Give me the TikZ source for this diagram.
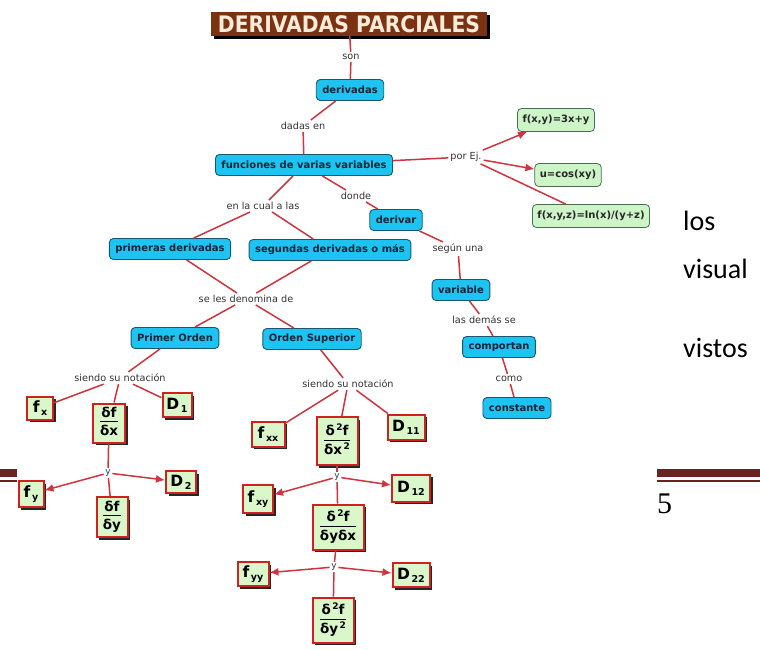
\documentclass[tikz,border=0pt]{standalone}
\usepackage{fontspec}
\setmainfont{DejaVu Sans}
\newfontfamily\calib{Carlito}
\newfontfamily\pserif{Liberation Serif}
\usetikzlibrary{arrows.meta,shadows}
\definecolor{conn}{HTML}{D0343E}
\definecolor{bluefill}{HTML}{1DC4F2}
\definecolor{blueedge}{HTML}{1B5670}
\definecolor{bluetext}{HTML}{0E2238}
\definecolor{greenfill}{HTML}{CDF5C8}
\definecolor{greenedge}{HTML}{4A6E50}
\definecolor{notfill}{HTML}{D9F7C8}
\definecolor{notedge}{HTML}{D02020}
\definecolor{titlefill}{HTML}{7A3212}
\definecolor{titletext}{HTML}{FBEBD8}
\definecolor{labeltext}{HTML}{333333}
\definecolor{conjtext}{HTML}{2A3A5A}
\definecolor{barcol}{HTML}{6B2222}
\newcommand\nsub[2]{{\fontsize{15.5}{15.5}\selectfont #1}\raisebox{-3pt}{\fontsize{9.5}{9.5}\selectfont\,#2}}
\newcommand\nfrac[2]{{\setlength\arrayrulewidth{1.3pt}\renewcommand\arraystretch{0.95}\begin{tabular}{@{}c@{}}#1\\\hline\rule{0pt}{13pt}#2\end{tabular}}}
\newcommand\sqd{\raisebox{5pt}{\fontsize{9}{9}\selectfont\,2}}
\begin{document}
\begin{tikzpicture}[x=1pt,y=-1pt,
  concept/.style={draw=blueedge, fill=bluefill, line width=0.9pt, rounded corners=4pt, text=bluetext, font=\fontsize{10}{12}\selectfont\bfseries, inner xsep=6pt, minimum height=21pt},
  example/.style={draw=greenedge, fill=greenfill, line width=0.8pt, rounded corners=4pt, text=black!85, font=\fontsize{10}{12}\selectfont\bfseries, inner xsep=5pt, minimum height=23pt},
  notation/.style={draw=notedge, fill=notfill, line width=2pt, text=black, font=\fontsize{13.5}{14}\selectfont\bfseries, inner sep=1pt, drop shadow={shadow xshift=2.5pt, shadow yshift=-2.5pt, fill=black!85, opacity=1}},
  lbl/.style={text=labeltext, font=\fontsize{9.7}{11}\selectfont, inner sep=2pt},
  conj/.style={text=conjtext, font=\fontsize{9}{10}\selectfont, inner sep=1.5pt},
  link/.style={draw=conn, line width=1.5pt},
  arrowlink/.style={link, -{Latex[length=9pt,width=8pt]}},
  pagetext/.style={anchor=base west, inner sep=0pt, font=\calib\fontsize{28}{30}\selectfont},
]
\useasboundingbox[fill=white] (0,0) rectangle (760,649);
% page elements behind the map
\fill[barcol] (0,469) rectangle (17,477);
\fill[barcol] (0,480) rectangle (17,482);
\fill[barcol] (657,469) rectangle (760,477);
\fill[barcol] (657,480) rectangle (760,482);
\node[pagetext] (los) at (683,230) {los};
\node[pagetext] (visual) at (683,278) {visual};
\node[pagetext] (vistos) at (683,357) {vistos};
\node[anchor=base west, inner sep=0pt, font=\pserif\fontsize{30}{30}\selectfont] (pnum) at (657,513) {5};

% title
\node[fill=titlefill, text=titletext, font=\fontsize{20.3}{22}\selectfont\bfseries, minimum width=276pt, minimum height=24pt, inner sep=0pt, drop shadow={shadow xshift=3pt, shadow yshift=-3pt, fill=black, opacity=1}] (title) at (349,24) {\scalebox{1}[1.12]{DERIVADAS PARCIALES}};

% concepts
\node[concept] (deriv) at (350,90) {derivadas};
\node[concept] (func) at (304,165) {funciones de varias variables};
\node[concept] (derivar) at (396,220) {derivar};
\node[concept] (primeras) at (170,249) {primeras derivadas};
\node[concept] (segundas) at (330,250) {segundas derivadas o más};
\node[concept] (variable) at (461,290) {variable};
\node[concept] (comportan) at (499,347) {comportan};
\node[concept] (constante) at (517,408) {constante};
\node[concept] (primer) at (175,338) {Primer Orden};
\node[concept] (superior) at (312,339) {Orden Superior};

% examples
\node[example] (ex1) at (556,120) {f(x,y)=3x+y};
\node[example] (ex2) at (568,175) {u=cos(xy)};
\node[example] (ex3) at (591,216) {f(x,y,z)=ln(x)/(y+z)};

% linking labels
\node[lbl] (son) at (351,57) {son};
\node[lbl] (dadas) at (303,126) {dadas en};
\node[lbl] (porej) at (466,157) {por Ej.};
\node[lbl] (donde) at (356,196) {donde};
\node[lbl] (encual) at (263,206) {en la cual a las};
\node[lbl] (segun) at (458,249) {según una};
\node[lbl] (lasdemas) at (484,320) {las demás se};
\node[lbl] (como) at (509,379) {como};
\node[lbl] (seles) at (246,299) {se les denomina de};
\node[lbl] (siendoA) at (120,378) {siendo su notación};
\node[lbl] (siendoB) at (348,384) {siendo su notación};
\node[conj] (yA) at (108,473) {y};
\node[conj] (yB) at (337,477) {y};
\node[conj] (yC) at (334,567) {y};

% notation boxes
\node[notation, minimum width=26pt, minimum height=23pt] (fx) at (40,408) {\nsub{f}{x}};
\node[notation, minimum width=32pt, minimum height=39pt] (dfdx) at (109,423) {\nfrac{δf}{δx}};
\node[notation, minimum width=29pt, minimum height=24pt] (D1) at (177,405) {\nsub{D}{1}};
\node[notation, minimum width=25pt, minimum height=26pt] (fy) at (31,494) {\nsub{f}{y}};
\node[notation, minimum width=30pt, minimum height=22pt] (D2) at (181,482) {\nsub{D}{2}};
\node[notation, minimum width=31pt, minimum height=40pt] (dfdy) at (112,517) {\nfrac{δf}{δy}};
\node[notation, minimum width=33pt, minimum height=25pt] (fxx) at (268,434) {\nsub{f}{xx}};
\node[notation, minimum width=41pt, minimum height=48pt] (d2fdx2) at (337,441) {\nfrac{δ\sqd f}{δx\sqd}};
\node[notation, minimum width=37pt, minimum height=25pt] (D11) at (406,427) {\nsub{D}{11}};
\node[notation, minimum width=30pt, minimum height=28pt] (fxy) at (258,499) {\nsub{f}{xy}};
\node[notation, minimum width=38pt, minimum height=27pt] (D12) at (411,488) {\nsub{D}{12}};
\node[notation, minimum width=51pt, minimum height=45pt] (d2fdydx) at (338,527) {\nfrac{δ\sqd f}{δyδx}};
\node[notation, minimum width=31pt, minimum height=24pt] (fyy) at (253,574) {\nsub{f}{yy}};
\node[notation, minimum width=37pt, minimum height=24pt] (D22) at (411,575) {\nsub{D}{22}};
\node[notation, minimum width=41pt, minimum height=45pt] (d2fdy2) at (333,620) {\nfrac{δ\sqd f}{δy\sqd}};

% connectors
\draw[link] (title) -- (son);
\draw[link] (son) -- (deriv);
\draw[link] (deriv) -- (dadas);
\draw[link] (dadas) -- (func);
\draw[link] (func) -- (porej);
\draw[arrowlink] (porej) -- (ex1);
\draw[arrowlink] (porej) -- (ex2);
\draw[link] (porej) -- (ex3);
\draw[link] (func) -- (donde);
\draw[link] (donde) -- (derivar);
\draw[link] (func) -- (encual);
\draw[link] (encual) -- (primeras);
\draw[link] (encual) -- (segundas);
\draw[link] (derivar) -- (segun);
\draw[link] (segun) -- (variable);
\draw[link] (variable) -- (lasdemas);
\draw[link] (lasdemas) -- (comportan);
\draw[link] (comportan) -- (como);
\draw[link] (como) -- (constante);
\draw[link] (primeras) -- (seles);
\draw[link] (segundas) -- (seles);
\draw[link] (seles) -- (primer);
\draw[link] (seles) -- (superior);
\draw[link] (primer) -- (siendoA);
\draw[link] (siendoA) -- (fx);
\draw[link] (siendoA) -- (dfdx);
\draw[link] (siendoA) -- (D1);
\draw[link] (dfdx) -- (yA);
\draw[arrowlink] (yA) -- (fy);
\draw[arrowlink] (yA) -- (D2);
\draw[link] (yA) -- (dfdy);
\draw[link] (superior) -- (siendoB);
\draw[link] (siendoB) -- (fxx);
\draw[link] (siendoB) -- (d2fdx2);
\draw[link] (siendoB) -- (D11);
\draw[link] (d2fdx2) -- (yB);
\draw[arrowlink] (yB) -- (fxy);
\draw[arrowlink] (yB) -- (D12);
\draw[link] (yB) -- (d2fdydx);
\draw[link] (d2fdydx) -- (yC);
\draw[arrowlink] (yC) -- (fyy);
\draw[arrowlink] (yC) -- (D22);
\draw[link] (yC) -- (d2fdy2);
\end{tikzpicture}
\end{document}
